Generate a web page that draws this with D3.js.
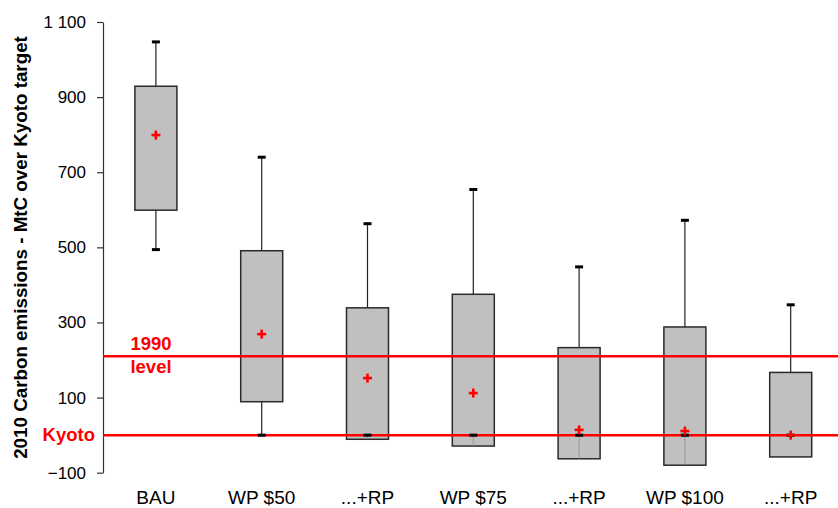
<!DOCTYPE html>
<html>
<head>
<meta charset="utf-8">
<script src="https://cdn.jsdelivr.net/npm/d3@7"></script>
<style>
  body { margin: 0; background: #fff; }
  svg { display: block; font-family: Arial, "Liberation Sans", sans-serif; }
</style>
</head>
<body>
<svg id="chart" width="838" height="508"></svg>
<script>
const categories = ["BAU", "WP $50", "...+RP", "WP $75", "...+RP", "WP $100", "...+RP"];
const maxValues  = [1047, 740, 563, 654, 448, 572, 347];
const q3Values   = [929, 491, 339, 375, 233, 288, 167];
const q1Values   = [599, 89, -11, -29, -63, -80, -58];
const minValues  = [494, 0, 0, 0, 0, 0, 0];
const meanValues = [799, 269, 152, 112, 14, 11, 0];
const yTicks = [-100, 100, 300, 500, 700, 900, 1100];
const kyotoLevel = 0;
const level1990 = 210;
const yTitle = "2010 Carbon emissions - MtC over Kyoto target";

(function () {
const svg = d3.select("#chart");
const plotLeft = 103, plotTop = 22, plotBottom = 472.7, bandW = 105.8;

const y = d3.scaleLinear().domain([-100, 1100]).range([plotBottom, plotTop]);
const x = d3.scaleBand().domain(d3.range(categories.length))
  .range([plotLeft, plotLeft + bandW * categories.length]).padding(0);
const boxW = 42, capW = 8;
const cx = i => x(i) + x.bandwidth() / 2;

const fmt = d3.formatLocale({decimal: ".", thousands: " ", grouping: [3], currency: ["", ""]}).format(",");

// Y axis
const yAxis = svg.append("g").attr("transform", `translate(${plotLeft},0)`)
  .call(d3.axisLeft(y).tickValues(yTicks).tickSize(6).tickSizeOuter(0).tickPadding(11).tickFormat(fmt));
yAxis.select(".domain").attr("stroke", "#333").attr("stroke-width", 1.2);
yAxis.selectAll(".tick line").attr("stroke", "#333").attr("stroke-width", 1.2);
yAxis.selectAll(".tick text").attr("font-size", 17).attr("fill", "#000")
  .attr("font-family", "Arial, 'Liberation Sans', sans-serif");

// Y title
svg.append("text")
  .attr("transform", `translate(27,${(28 + 467) / 2}) rotate(-90)`)
  .attr("text-anchor", "middle")
  .attr("font-size", 18.8).attr("font-weight", "bold").attr("fill", "#000")
  .text(yTitle);

// X labels
svg.append("g").selectAll("text").data(categories).join("text")
  .attr("x", (d, i) => cx(i)).attr("y", 503.5)
  .attr("text-anchor", "middle").attr("font-size", 19).attr("fill", "#000")
  .text(d => d);

const g = svg.append("g");
const idx = d3.range(categories.length);

// upper whiskers
g.append("g").selectAll("line").data(idx).join("line")
  .attr("x1", cx).attr("x2", cx)
  .attr("y1", i => y(q3Values[i])).attr("y2", i => y(maxValues[i]))
  .attr("stroke", "#222").attr("stroke-width", 1.2);
// lower whiskers (below box)
g.append("g").selectAll("line").data(idx.filter(i => minValues[i] < q1Values[i])).join("line")
  .attr("x1", cx).attr("x2", cx)
  .attr("y1", i => y(q1Values[i])).attr("y2", i => y(minValues[i]))
  .attr("stroke", "#222").attr("stroke-width", 1.2);

// boxes
g.append("g").selectAll("rect").data(idx).join("rect")
  .attr("x", i => cx(i) - boxW / 2).attr("width", boxW)
  .attr("y", i => y(q3Values[i]))
  .attr("height", i => y(q1Values[i]) - y(q3Values[i]))
  .attr("fill", "#c0c0c0").attr("stroke", "#2a2a2a").attr("stroke-width", 1.5);

// inner whisker parts (min inside the box)
g.append("g").selectAll("line").data(idx.filter(i => minValues[i] >= q1Values[i] && i < categories.length - 1)).join("line")
  .attr("x1", cx).attr("x2", cx)
  .attr("y1", i => y(q1Values[i])).attr("y2", i => y(minValues[i]))
  .attr("stroke", "#888").attr("stroke-width", 0.7);

// reference lines
[kyotoLevel, level1990].forEach(v => {
  svg.append("line").attr("x1", plotLeft).attr("x2", 838)
    .attr("y1", y(v)).attr("y2", y(v))
    .attr("stroke", "#ff0000").attr("stroke-width", 2.5);
});

const g2 = svg.append("g");
// caps
g2.append("g").selectAll("line").data(idx).join("line")
  .attr("x1", i => cx(i) - capW / 2).attr("x2", i => cx(i) + capW / 2)
  .attr("y1", i => y(maxValues[i])).attr("y2", i => y(maxValues[i]))
  .attr("stroke", "#000").attr("stroke-width", 3);
g2.append("g").selectAll("line").data(idx).join("line")
  .attr("x1", i => cx(i) - capW / 2).attr("x2", i => cx(i) + capW / 2)
  .attr("y1", i => y(minValues[i])).attr("y2", i => y(minValues[i]))
  .attr("stroke", "#000").attr("stroke-width", 3);

// means
const ms = 4.5;
const meanG = g2.append("g").selectAll("g").data(idx).join("g")
  .attr("transform", i => `translate(${cx(i)},${y(meanValues[i])})`);
meanG.append("line").attr("x1", -ms).attr("x2", ms).attr("y1", 0).attr("y2", 0)
  .attr("stroke", "#ff0000").attr("stroke-width", 2.6);
meanG.append("line").attr("x1", 0).attr("x2", 0).attr("y1", -ms).attr("y2", ms)
  .attr("stroke", "#ff0000").attr("stroke-width", 2.6);

// red labels
const redLab = (txt, xx, yy, anchor) => svg.append("text")
  .attr("x", xx).attr("y", yy).attr("text-anchor", anchor)
  .attr("font-size", 18.5).attr("font-weight", "bold").attr("fill", "#ff0000").text(txt);
redLab("1990", 151, y(level1990) - 6.5, "middle");
redLab("level", 151, y(level1990) + 16.5, "middle");
redLab("Kyoto", 95, y(kyotoLevel) + 6, "end");
})();
</script>
</body>
</html>
